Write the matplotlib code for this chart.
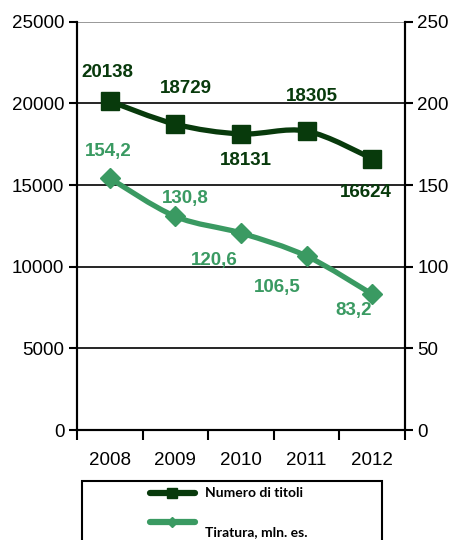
import numpy as np
import matplotlib.pyplot as plt
from matplotlib.path import Path
from matplotlib.patches import PathPatch, Rectangle
from matplotlib.lines import Line2D

years = ['2008', '2009', '2010', '2011', '2012']
titoli = [20138, 18729, 18131, 18305, 16624]
tiratura = [154.2, 130.8, 120.6, 106.5, 83.2]
tiratura_labels = ['154,2', '130,8', '120,6', '106,5', '83,2']

dark = '#083a0c'
light = '#3a9a62'

# pixel offsets of the value labels from their points
off_titoli = [(-2, 29), (11, 36), (5, -27), (5, 35), (-6, -34)]
off_tiratura = [(-1, 27), (10, 18), (-27, -27), (-29, -31), (-19, -16)]

plt.rcParams['font.family'] = ['Liberation Sans', 'DejaVu Sans']


def smooth_path(xs, ys):
    # Catmull-Rom style bezier through the points
    pts = np.column_stack([xs, ys]).astype(float)
    n = len(pts)
    verts = [pts[0]]
    codes = [Path.MOVETO]
    for i in range(n - 1):
        p0 = pts[max(i - 1, 0)]
        p1 = pts[i]
        p2 = pts[i + 1]
        p3 = pts[min(i + 2, n - 1)]
        c1 = p1 + (p2 - p0) / 6.0
        c2 = p2 - (p3 - p1) / 6.0
        verts += [c1, c2, p2]
        codes += [Path.CURVE4] * 3
    return Path(verts, codes)


fig = plt.figure(figsize=(4.55, 5.4), dpi=100)
ax = fig.add_axes([0.169, 0.2037, 0.721, 0.756])
ax2 = ax.twinx()

x = np.arange(len(years))

ax.set_xlim(-0.5, 4.5)
ax.set_ylim(0, 25000)
ax2.set_ylim(0, 250)
ax.set_yticks(np.arange(0, 25001, 5000))
ax2.set_yticks(np.arange(0, 251, 50))

for y in range(5000, 25000, 5000):
    ax.axhline(y, color='black', lw=1.2, zorder=1)
ax.axhline(25000, color='#888888', lw=1.2, zorder=1)

ax.set_xticks(np.arange(-0.5, 5, 1))
ax.set_xticklabels([])
ax.set_xticks(x, minor=True)
ax.set_xticklabels(years, minor=True)
ax.tick_params(axis='x', which='major', direction='out', length=7, width=1.5)
ax.tick_params(axis='x', which='minor', length=0, pad=16, labelsize=13.5)
ax.tick_params(axis='y', direction='out', length=6, width=1.5, labelsize=13.5, pad=3)
ax2.tick_params(axis='y', direction='out', length=6, width=1.5, labelsize=13.5, pad=3)

for a in (ax, ax2):
    a.spines['top'].set_visible(False)
    for s in ('left', 'right', 'bottom'):
        a.spines[s].set_linewidth(1.5)

# Numero di titoli, left scale
ax.add_patch(PathPatch(smooth_path(x, titoli), fill=False, edgecolor=dark,
                       lw=3.8, capstyle='round', joinstyle='round', zorder=3))
ax.plot(x, titoli, ls='none', marker='s', ms=12.5, color=dark, zorder=4)
for xi, v, (dx, dy) in zip(x, titoli, off_titoli):
    ax.annotate(str(v), (xi, v), xytext=(dx, dy), textcoords='offset pixels',
                ha='center', va='center', fontsize=13.5, fontweight='bold',
                color=dark, zorder=5)

# Tiratura, right scale
ax2.add_patch(PathPatch(smooth_path(x, tiratura), fill=False, edgecolor=light,
                        lw=3.8, capstyle='round', joinstyle='round', zorder=3))
ax2.plot(x, tiratura, ls='none', marker='D', ms=10, color=light, zorder=4)
for xi, v, lab, (dx, dy) in zip(x, tiratura, tiratura_labels, off_tiratura):
    ax2.annotate(lab, (xi, v), xytext=(dx, dy), textcoords='offset pixels',
                 ha='center', va='center', fontsize=13.5, fontweight='bold',
                 color=light, zorder=5)

# legend box, runs off the bottom edge
fig.patches.append(Rectangle((82 / 455, -0.05), 300 / 455, 0.05 + 59 / 540,
                             transform=fig.transFigure, fill=False,
                             edgecolor='black', lw=1.5))
fig.lines.append(Line2D([150 / 455, 195 / 455], [1 - 493 / 540] * 2,
                        transform=fig.transFigure, color=dark, lw=4.5,
                        solid_capstyle='round'))
fig.lines.append(Line2D([172 / 455], [1 - 493 / 540], transform=fig.transFigure,
                        ls='none', marker='s', ms=7, color=dark))
fig.lines.append(Line2D([150 / 455, 195 / 455], [1 - 522 / 540] * 2,
                        transform=fig.transFigure, color=light, lw=4.5,
                        solid_capstyle='round'))
fig.lines.append(Line2D([172 / 455], [1 - 522 / 540], transform=fig.transFigure,
                        ls='none', marker='D', ms=5, color=light))
fig.text(205 / 455, 1 - 493 / 540, 'Numero di titoli', family='Lato',
         fontweight='bold', fontsize=10, va='center', ha='left')
fig.text(205 / 455, 1 - 532 / 540, 'Tiratura, mln. es.', family='Lato',
         fontweight='bold', fontsize=10, va='center', ha='left')

fig.savefig('out.png', dpi=100)
